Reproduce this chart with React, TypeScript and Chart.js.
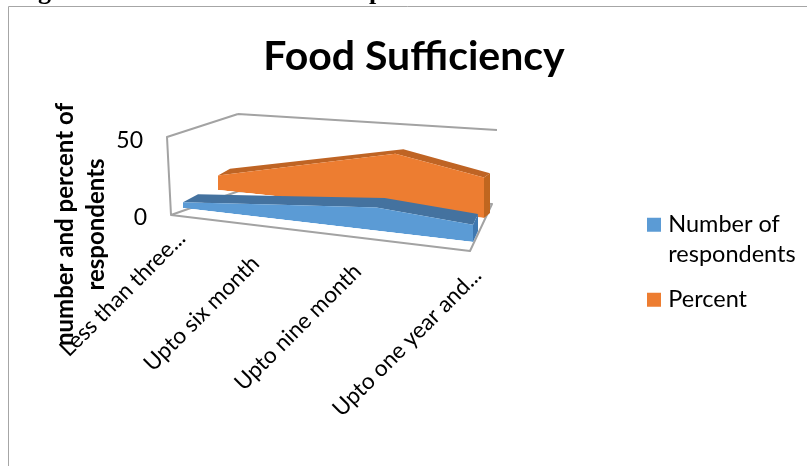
import React, { useEffect, useRef } from "react";
import { Chart, registerables } from "chart.js";

const categories = ["Less than three...", "Upto six month", "Upto nine month", "Upto one year and..."];
const numberOfRespondents = [4, 10, 16, 12];
const percent = [10, 24, 38, 28];
const tickValues = [0, 50];
const seriesNames: string[][] = [["Number of", "respondents"], ["Percent"]];
const axisTitle = ["number and percent of", "respondents"];
const chartTitle = "Food Sufficiency";

const FONT = "Lato, Carlito, Calibri, sans-serif";

// x-axis label end anchors, following the perspective of the floor
const xLabelAnchors = [[172, 225], [246, 250], [348, 258], [468, 262]];
const yLabelAnchors = [[147, 218], [143, 141]];

// Oblique projection of each series ribbon: front and back planes
const ribbons = [
  {
    front: { x0: 183, x1: 473, b0: 208, b1: 242, sy: 0.94 },
    back: { x0: 198, x1: 478, b0: 200, b1: 231, sy: 0.92 },
    top: "#44729f",
    side: "#3f78b0",
  },
  {
    front: { x0: 218, x1: 484, b0: 190, b1: 218, sy: 0.94 },
    back: { x0: 230, x1: 490, b0: 183, b1: 213, sy: 0.92 },
    top: "#bf6424",
    side: "#c0661f",
  },
];

const project = (c: any, p: any, x: number, y: number) => {
  const { left, right, bottom } = c.chartArea;
  const sx = (p.x1 - p.x0) / (right - left);
  const slope = (p.b1 - p.b0) / (right - left);
  return [sx * (x - left) + p.x0, p.b0 + slope * (x - left) + p.sy * (y - bottom)];
};

const scene: any = {
  id: "scene3d",
  beforeLayout(c: any) {
    const legend = c.legend;
    if (legend && !legend._patched) {
      const fit = legend.fit;
      legend.fit = function () {
        fit.call(this);
        this.width = 337;
      };
      legend._patched = true;
    }
  },
  afterLayout(c: any) {
    if (c.legend) {
      c.legend.left = 636.5;
      c.legend.top = 198;
    }
    if (c.titleBlock) {
      c.titleBlock.left += 10.5;
      c.titleBlock.right += 10.5;
    }
    const y = c.scales.y;
    if (!y._patched) {
      const dt = y.drawTitle;
      y.drawTitle = function (...a: any[]) {
        const ctx = this.ctx;
        ctx.save();
        ctx.translate(0, 48);
        dt.apply(this, a);
        ctx.restore();
      };
      y._patched = true;
    }
  },
  beforeDraw(c: any) {
    const ctx = c.ctx;
    ctx.save();
    ctx.strokeStyle = "#a6a6a6";
    ctx.lineWidth = 1;
    ctx.beginPath();
    ctx.moveTo(8.5, 466);
    ctx.lineTo(8.5, 6.5);
    ctx.lineTo(807, 6.5);
    ctx.stroke();
    ctx.fillStyle = "#000";
    ctx.font = "bold 26px 'Liberation Serif'";
    ctx.textBaseline = "alphabetic";
    ctx.fillText("g", 38, -1);
    ctx.fillText("p", 369, -1);
    ctx.restore();

    const apply = (scale: any, anchors: number[][]) => {
      scale.getLabelItems().forEach((it: any, i: number) => {
        it.options.translation = anchors[i];
      });
    };
    apply(c.scales.x, xLabelAnchors);
    apply(c.scales.y, yLabelAnchors);
  },
  beforeDatasetsDraw(c: any) {
    const { left, right, top, bottom } = c.chartArea;
    const ctx = c.ctx;
    ctx.save();
    ctx.strokeStyle = "#a3a3a3";
    ctx.lineWidth = 2;
    ctx.lineJoin = "round";
    ctx.beginPath();
    ctx.moveTo(left + 67, top - 24);
    ctx.lineTo(left - 4, top - 1);
    ctx.lineTo(left, bottom);
    ctx.lineTo(right, bottom + 36);
    ctx.lineTo(right + 22, bottom - 11);
    ctx.lineTo(left + 68, bottom - 24);
    ctx.lineTo(left, bottom);
    ctx.moveTo(left + 67, top - 24);
    ctx.lineTo(right + 27, top - 8);
    ctx.stroke();
    ctx.restore();
  },
  beforeDatasetDraw(c: any, args: any) {
    const ctx = c.ctx;
    const r = ribbons[args.index];
    const pts = c.getDatasetMeta(args.index).data;
    const base = c.scales.y.getPixelForValue(0);
    const { left, right, bottom } = c.chartArea;
    const f = pts.map((p: any) => project(c, r.front, p.x, p.y));
    const b = pts.map((p: any) => project(c, r.back, p.x, p.y));
    ctx.save();
    ctx.fillStyle = r.top;
    ctx.beginPath();
    f.forEach((q: number[], i: number) => (i ? ctx.lineTo(q[0], q[1]) : ctx.moveTo(q[0], q[1])));
    [...b].reverse().forEach((q: number[]) => ctx.lineTo(q[0], q[1]));
    ctx.closePath();
    ctx.fill();
    const last = pts[pts.length - 1];
    const fb = project(c, r.front, last.x, base);
    const bb = project(c, r.back, last.x, base);
    ctx.fillStyle = r.side;
    ctx.beginPath();
    ctx.moveTo(f[f.length - 1][0], f[f.length - 1][1]);
    ctx.lineTo(b[b.length - 1][0], b[b.length - 1][1]);
    ctx.lineTo(bb[0], bb[1]);
    ctx.lineTo(fb[0], fb[1]);
    ctx.closePath();
    ctx.fill();
    ctx.restore();

    const p = r.front;
    const w = right - left;
    const sx = (p.x1 - p.x0) / w;
    const slope = (p.b1 - p.b0) / w;
    ctx.save();
    ctx.transform(sx, slope, 0, p.sy, p.x0 - sx * left, p.b0 - slope * left - p.sy * bottom);
  },
  afterDatasetDraw(c: any) {
    c.ctx.restore();
  },
};

Chart.register(scene);
Chart.register(...registerables);

export default function App() {
  const ref = useRef<HTMLCanvasElement>(null);
  useEffect(() => {
    document.body.style.margin = "0";
    const chart = new Chart(ref.current!, {
      type: "line",
      data: {
        labels: categories,
        datasets: [
          {
            label: seriesNames[0] as any,
            data: numberOfRespondents,
            backgroundColor: "#5b9bd5",
            borderColor: "#5b9bd5",
            borderWidth: 0,
            pointRadius: 0,
            fill: "origin",
            clip: false as any,
          },
          {
            label: seriesNames[1] as any,
            data: percent,
            backgroundColor: "#ed7d31",
            borderColor: "#ed7d31",
            borderWidth: 0,
            pointRadius: 0,
            fill: "origin",
            clip: false as any,
          },
        ],
      },
      options: {
        responsive: false,
        animation: false,
        layout: { padding: 0 },
        plugins: {
          title: {
            display: true,
            text: chartTitle,
            color: "#000",
            font: { family: FONT, size: 41, weight: "bold", lineHeight: 1 },
            padding: { top: 36.5, bottom: 60.5 },
          },
          legend: {
            display: true,
            position: "right",
            align: "start",
            labels: {
              boxWidth: 5,
              boxHeight: 5,
              padding: 15,
              color: "#000",
              font: { family: FONT, size: 23.5, lineHeight: 1.277 },
              generateLabels(c: any) {
                return Chart.defaults.plugins.legend.labels
                  .generateLabels(c)
                  .map((item: any) => ({ ...item, strokeStyle: item.fillStyle, lineWidth: 9 }));
              },
            },
          },
          tooltip: { enabled: false },
        },
        scales: {
          x: {
            grid: { display: false },
            border: { display: false },
            offset: false,
            ticks: {
              autoSkip: false,
              minRotation: 45,
              maxRotation: 45,
              color: "#000",
              font: { family: FONT, size: 22.6 },
            },
            afterFit(s: any) {
              s.height = 251;
            },
          },
          y: {
            min: 0,
            max: 50,
            grid: { display: false },
            border: { display: false },
            afterBuildTicks(s: any) {
              s.ticks = tickValues.map((value) => ({ value }));
            },
            ticks: { color: "#000", font: { family: FONT, size: 23 } },
            title: {
              display: true,
              text: axisTitle,
              color: "#000",
              font: { family: FONT, size: 24, weight: "bold", lineHeight: 1.29 },
              padding: { top: 50, bottom: 0 },
            },
            afterFit(s: any) {
              s.width = 171;
            },
          },
        },
      } as any,
    });
    return () => chart.destroy();
  }, []);
  return <canvas ref={ref} width={807} height={466} style={{ display: "block" }} />;
}
